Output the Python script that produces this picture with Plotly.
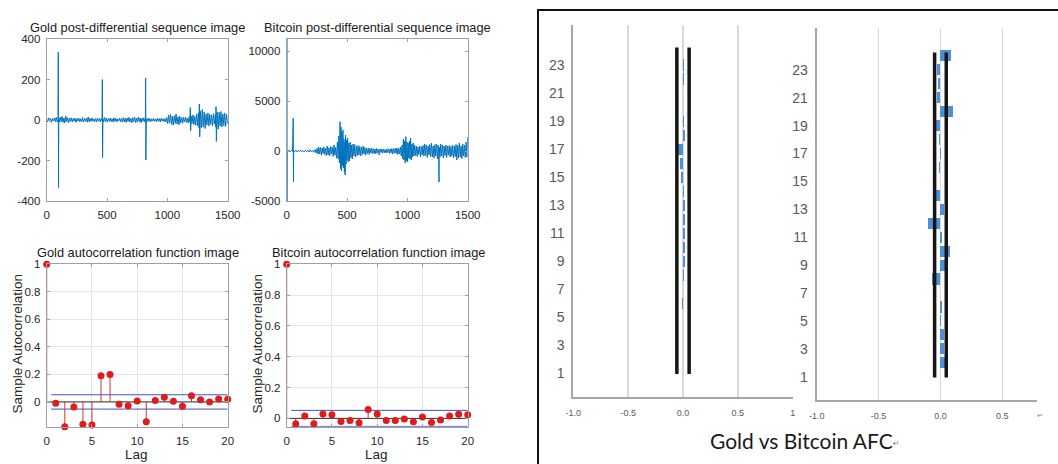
import plotly.graph_objects as go

W, H = 1058, 464

# ---------------- data ----------------
gold_points = [
    (0, 3), (8, -9), (15, 11), (24, -6), (31, 8), (40, -12), (47, 6), (55, -5), (63, 10), (71, -8), (79, 13), (87, -10), (94, 4),
    (96, 335), (98, -334), (100, 9),
    (104, -11), (112, 14), (120, -9), (127, 18), (135, -12), (143, 10), (150, -15), (158, 20), (166, -8), (173, 12), (181, -14),
    (189, 9), (196, -7), (204, 11), (212, -10), (220, 8), (228, -6), (235, 9), (243, -12), (251, 7), (259, -5), (266, 10),
    (274, -9), (282, 6), (290, -8), (297, 12), (305, -10), (313, 7), (321, -6), (328, 9), (336, -11), (344, 15), (352, -9),
    (359, 8), (367, -7), (375, 10), (383, -6), (390, 5), (398, -8), (406, 7), (414, -10), (421, 9), (429, -6), (437, 8),
    (445, -9), (452, 6), (459, -4),
    (461, 200), (463, -185), (466, 7),
    (472, -10), (480, 12), (488, -8), (495, 9), (503, -11), (511, 7), (519, -6), (526, 10), (534, -8), (542, 6), (550, -9),
    (557, 11), (565, -7), (573, 8), (581, -10), (588, 6), (596, -5), (604, 9), (612, -8), (619, 7), (627, -11), (635, 12),
    (643, -9), (650, 8), (658, -12), (666, 10), (674, -7), (681, 13), (689, -10), (697, 8), (705, -14), (712, 11), (720, -9),
    (728, 15), (736, -12), (743, 9), (751, -11), (759, 14), (767, -8), (774, 10), (782, -13), (790, 9), (798, -7), (805, 11),
    (813, -9), (818, 5),
    (820, 208), (822, -198), (825, 6),
    (832, -8), (840, 9), (848, -6), (855, 7), (863, -9), (871, 6), (879, -5), (886, 8), (894, -7), (902, 5), (910, -8),
    (917, 9), (925, -6), (933, 7), (941, -9), (948, 8), (956, -5), (964, 6), (972, -8), (979, 7), (987, -10), (995, 12),
    (1003, -18), (1010, 24), (1018, -15), (1026, 28), (1034, -22), (1041, 19), (1049, -25), (1057, 21), (1065, -17),
    (1072, 30), (1080, -20), (1088, 16), (1096, -24), (1103, 18), (1111, -14), (1119, 12), (1127, -16), (1134, 14),
    (1142, -10), (1150, 13), (1158, -12), (1165, 10), (1173, -15), (1181, 16), (1187, -10),
    (1190, 61), (1193, -53), (1197, 20),
    (1204, -18), (1212, 25), (1220, -22), (1227, 18), (1235, -26), (1243, 30), (1251, -28), (1258, 35),
    (1263, -40), (1265, 79), (1268, -83),
    (1274, 45), (1282, -38), (1289, 52), (1297, -35), (1305, 40), (1313, -42), (1320, 30), (1328, -25), (1336, 35),
    (1344, -30), (1351, 28), (1359, -22), (1367, 25), (1375, -30), (1382, 32), (1390, -20), (1398, 25),
    (1401, -35), (1403, 66), (1406, -106),
    (1413, 40), (1421, -45), (1429, 38), (1437, -30), (1444, 42), (1452, -35), (1460, 30), (1468, -28), (1475, 35),
    (1483, -32), (1491, 28), (1500, -20),
]
gold_day = [p[0] for p in gold_points]
gold_diff = [p[1] for p in gold_points]

btc_points = [
    (0, 0), (1, 11200), (2, -5000), (3, 20),
    (10, -60), (20, 80), (30, -50), (40, 70), (48, -40),
    (54, 3270), (56, -3070), (58, 30),
    (66, -80), (75, 60), (85, -90), (95, 70), (105, -60), (115, 90), (125, -70), (135, 50), (145, -80), (155, 60),
    (165, -50), (175, 80), (185, -100), (195, 120), (205, -90), (215, 70), (225, -130), (235, 150), (245, -200),
    (252, 260), (259, -320), (266, 380), (273, -300), (280, 350), (287, -420), (294, 300), (301, -250), (308, 400),
    (315, -350), (322, 280), (329, -450), (336, 500), (343, -380), (350, 320), (357, -500), (364, 450), (371, -300),
    (378, 380), (385, -550), (392, 600), (399, -420), (406, 350), (413, -700), (420, 900), (426, -800), (432, 1500),
    (437, -1200), (442, 2930), (446, -1800), (450, 2400), (454, -2000), (458, 1900), (462, -1500), (466, 2100),
    (470, -1700), (474, 1200), (478, -2100), (482, 900), (484, -2400), (488, 1600), (492, -1300), (496, 1100),
    (500, -900), (505, 1300), (510, -1100), (515, 800), (520, -1000), (526, 900), (532, -700), (538, 600), (544, -800),
    (550, 700), (557, -500), (564, 650), (571, -600), (578, 500), (585, -450), (592, 550), (599, -400), (606, 450),
    (613, -500), (620, 400), (627, -350), (634, 500), (641, -300), (648, 350), (655, -420), (662, 300), (669, -250),
    (676, 280), (683, -350), (690, 250), (697, -200), (704, 300), (711, -280), (718, 220), (725, -250), (732, 200),
    (739, -300), (746, 250), (753, -180), (760, 150), (767, -400), (774, 200), (781, -150), (788, 180), (795, -220),
    (802, 200), (809, -170), (816, 150), (823, -200), (830, 180), (837, -150), (844, 220), (851, -250), (858, 200),
    (865, -180), (872, 250), (879, -300), (886, 220), (893, -200), (900, 280), (907, -250), (914, 300), (921, -350),
    (928, 250), (935, -300), (942, 400), (949, -500), (956, 600), (962, -800), (967, 1200), (972, -900), (977, 1000),
    (982, -1200), (987, 1430), (992, -1000), (997, 900), (1002, -1100), (1007, 800), (1012, -700), (1017, 1000),
    (1022, -800), (1027, 1300), (1032, -900), (1037, 700), (1042, -600), (1048, 800), (1054, -500), (1060, 600),
    (1067, -450), (1074, 500), (1081, -550), (1088, 400), (1095, -350), (1102, 500), (1109, -600), (1116, 450),
    (1123, -400), (1130, 550), (1137, -500), (1144, 700), (1151, -450), (1158, 600), (1165, -650), (1172, 500),
    (1179, -400), (1186, 650), (1193, -550), (1200, 800), (1207, -600), (1214, 500), (1221, -700), (1228, 650),
    (1235, -500), (1242, 700), (1249, -800), (1255, 600), (1260, -300), (1262, -3100), (1264, 400), (1270, -600),
    (1277, 700), (1284, -500), (1291, 600), (1298, -700), (1305, 500), (1312, -450), (1319, 600), (1326, -650),
    (1333, 500), (1340, -400), (1347, 550), (1354, -600), (1361, 450), (1368, -500), (1375, 600), (1382, -700),
    (1389, 500), (1396, -550), (1403, 650), (1410, -900), (1417, 600), (1424, -700), (1431, 800), (1438, -600),
    (1445, 500), (1452, -750), (1459, 700), (1466, -500), (1473, 600), (1480, -650), (1487, 900), (1494, -600),
    (1500, 1400),
]
btc_day = [p[0] for p in btc_points]
btc_diff = [p[1] for p in btc_points]

acf_lags = list(range(21))
gold_acf = [1, -0.01, -0.18, -0.037, -0.163, -0.168, 0.19, 0.2, -0.017, -0.027, 0.007,
            -0.144, 0.01, 0.034, 0.005, -0.032, 0.044, 0.015, 0.0, 0.022, 0.02]
btc_acf = [1, -0.035, 0.015, -0.035, 0.028, 0.024, -0.02, -0.013, -0.028, 0.058, 0.028,
           -0.013, -0.013, -0.004, -0.022, 0.009, -0.026, -0.011, 0.015, 0.026, 0.024]
acf_bound = 0.052

spss_lags = list(range(1, 25))
gold_spss = [0.002, 0.003, -0.003, -0.003, 0.002, -0.005, -0.004, 0.01, 0.02, 0.02, 0.02, 0.015,
             0.015, 0.005, -0.02, -0.03, -0.05, 0.015, 0.008, -0.002, 0.002, 0.005, 0.012, -0.004]
btc_spss = [0.0, 0.065, 0.025, 0.025, 0.005, 0.015, 0.0, -0.07, 0.04, 0.075, 0.015, -0.1,
            0.03, -0.04, -0.005, -0.01, 0.005, -0.015, -0.045, 0.1, -0.03, -0.02, -0.03, 0.088]
gold_conf = 0.056
btc_conf = 0.047

ts_x_ticks = [0, 500, 1000, 1500]
ts_x_text = ["0", "500", "1000", "1500"]
gold_y_ticks = [-400, -200, 0, 200, 400]
gold_y_text = ["-400", "-200", "0", "200", "400"]
btc_y_ticks = [-5000, 0, 5000, 10000]
btc_y_text = ["-5000", "0", "5000", "10000"]
acf_x_ticks = [0, 5, 10, 15, 20]
acf_x_text = ["0", "5", "10", "15", "20"]
acf_y_ticks = [0, 0.2, 0.4, 0.6, 0.8, 1]
acf_y_text = ["0", "0.2", "0.4", "0.6", "0.8", "1"]
spss_y_ticks = list(range(1, 24, 2))
spss_y_text = [str(v) for v in spss_y_ticks]
spss_x_ticks_gold = [-1, -0.5, 0, 0.5, 1]
spss_x_text_gold = ["-1.0", "-0.5", "0.0", "0.5", "1"]
spss_x_ticks_btc = [-1, -0.5, 0, 0.5]
spss_x_text_btc = ["-1.0", "-0.5", "0.0", "0.5"]


# ---------------- helpers ----------------
def dx(a, b):
    return [a / W, b / W]


def dy(top, bottom):
    return [1 - bottom / H, 1 - top / H]


def px(x):
    return x / W


def py(y):
    return 1 - y / H


MFONT = "Liberation Sans, Arial, Helvetica, sans-serif"
NFONT = "Liberation Sans Narrow, Arial Narrow, Liberation Sans, sans-serif"


def matlab_axis(**kw):
    d = dict(showline=True, linecolor="#a0a0a0", linewidth=1, mirror="ticks", ticks="inside",
             ticklen=3, tickcolor="#a0a0a0", zeroline=False, showgrid=False, automargin=False,
             tickfont=dict(family=MFONT, size=11.5, color="#262626"), ticklabelstandoff=3,
             fixedrange=True)
    d.update(kw)
    return d


def spss_axis(**kw):
    d = dict(showline=True, linecolor="#a6a6a6", linewidth=2, mirror=False, ticks="",
             zeroline=False, showgrid=False, fixedrange=True, automargin=False)
    d.update(kw)
    return d


def stems(lags, vals):
    xs, ys = [], []
    for l, v in zip(lags, vals):
        xs += [l, l, None]
        ys += [0, v, None]
    return xs, ys


fig = go.Figure()

# time series
fig.add_trace(go.Scatter(x=gold_day, y=gold_diff, mode="lines", line=dict(color="#0072BD", width=1),
                         xaxis="x", yaxis="y", showlegend=False))
fig.add_trace(go.Scatter(x=btc_day, y=btc_diff, mode="lines", line=dict(color="#0072BD", width=1),
                         xaxis="x2", yaxis="y2", showlegend=False))

# ACF plots
for vals, xa, ya in [(gold_acf, "x3", "y3"), (btc_acf, "x4", "y4")]:
    fig.add_trace(go.Scatter(x=[0.5, acf_lags[-1]], y=[acf_bound, acf_bound], mode="lines",
                             line=dict(color="#4052c4", width=1), xaxis=xa, yaxis=ya, showlegend=False))
    fig.add_trace(go.Scatter(x=[0.5, acf_lags[-1]], y=[-acf_bound, -acf_bound], mode="lines",
                             line=dict(color="#4052c4", width=1), xaxis=xa, yaxis=ya, showlegend=False))
    fig.add_trace(go.Scatter(x=[acf_lags[0], acf_lags[-1]], y=[0, 0], mode="lines",
                             line=dict(color="#303030", width=1), xaxis=xa, yaxis=ya, showlegend=False))
    sx, sy = stems(acf_lags, vals)
    fig.add_trace(go.Scatter(x=sx, y=sy, mode="lines", line=dict(color="#d03434", width=1),
                             xaxis=xa, yaxis=ya, showlegend=False, cliponaxis=False))
    fig.add_trace(go.Scatter(x=acf_lags, y=vals, mode="markers",
                             marker=dict(color="#e01b1b", size=7, line=dict(width=0)),
                             xaxis=xa, yaxis=ya, showlegend=False, cliponaxis=False))

# SPSS-style ACF bars
for vals, conf, xa, ya in [(gold_spss, gold_conf, "x5", "y5"), (btc_spss, btc_conf, "x6", "y6")]:
    fig.add_trace(go.Bar(y=spss_lags, x=vals, orientation="h", width=0.8,
                         marker=dict(color="#4f8fd8", line=dict(width=0)),
                         xaxis=xa, yaxis=ya, showlegend=False))
    ylo, yhi = spss_lags[0] - 0.05, spss_lags[-1] + 0.25
    for c in (-conf, conf):
        fig.add_trace(go.Scatter(x=[c, c], y=[ylo, yhi], mode="lines",
                                 line=dict(color="#151515", width=3.5),
                                 xaxis=xa, yaxis=ya, showlegend=False))

layout = dict(
    width=W, height=H, margin=dict(l=0, r=0, t=0, b=0, autoexpand=False),
    paper_bgcolor="white", plot_bgcolor="white", showlegend=False, bargap=0,
    xaxis=matlab_axis(domain=dx(46.7, 227.7), range=[0, 1500], tickvals=ts_x_ticks, ticktext=ts_x_text, anchor="y"),
    yaxis=matlab_axis(domain=dy(39, 201), range=[-400, 400], tickvals=gold_y_ticks, ticktext=gold_y_text, anchor="x"),
    xaxis2=matlab_axis(domain=dx(286.7, 467.7), range=[0, 1500], tickvals=ts_x_ticks, ticktext=ts_x_text, anchor="y2"),
    yaxis2=matlab_axis(domain=dy(39, 201), range=[-5000, 11200], tickvals=btc_y_ticks, ticktext=btc_y_text, anchor="x2"),
    xaxis3=matlab_axis(domain=dx(46.7, 227.7), range=[0, 20], tickvals=acf_x_ticks, ticktext=acf_x_text, anchor="y3",
                       showgrid=True, gridcolor="#e6e6e6", gridwidth=1),
    yaxis3=matlab_axis(domain=dy(264.3, 426.7), range=[-0.18, 1], tickvals=acf_y_ticks, ticktext=acf_y_text,
                       anchor="x3", showgrid=True, gridcolor="#e6e6e6", gridwidth=1),
    xaxis4=matlab_axis(domain=dx(286.7, 467.7), range=[0, 20], tickvals=acf_x_ticks, ticktext=acf_x_text, anchor="y4",
                       showgrid=True, gridcolor="#e6e6e6", gridwidth=1),
    yaxis4=matlab_axis(domain=dy(264.3, 426.7), range=[-0.054, 1], tickvals=acf_y_ticks, ticktext=acf_y_text,
                       anchor="x4", showgrid=True, gridcolor="#e6e6e6", gridwidth=1),
    xaxis5=spss_axis(domain=dx(573.3, 792.7), range=[-1, 1], tickvals=spss_x_ticks_gold, ticktext=spss_x_text_gold,
                     anchor="y5", showgrid=True, gridcolor="#d9d9d9", gridwidth=1.5,
                     tickfont=dict(family=NFONT, size=9, color="#595959"), ticklabelstandoff=6),
    yaxis5=spss_axis(domain=dy(25, 397), range=[-0.69, 25.86], tickvals=spss_y_ticks, ticktext=spss_y_text,
                     anchor="x5", tickfont=dict(family=NFONT, size=14, color="#595959"), ticklabelstandoff=4),
    xaxis6=spss_axis(domain=dx(816.7, 1036.7), range=[-1, 0.778], tickvals=spss_x_ticks_btc, ticktext=spss_x_text_btc,
                     anchor="y6", showgrid=True, gridcolor="#d9d9d9", gridwidth=1.5,
                     tickfont=dict(family=NFONT, size=9, color="#595959"), ticklabelstandoff=6),
    yaxis6=spss_axis(domain=dy(28, 400), range=[-0.67, 26.0], tickvals=spss_y_ticks, ticktext=spss_y_text,
                     anchor="x6", tickfont=dict(family=NFONT, size=14, color="#595959"), ticklabelstandoff=4),
)
fig.update_layout(**layout)

TFONT = dict(family=MFONT, size=12.8, color="#1a1a1a")
LFONT = dict(family=MFONT, size=13.5, color="#262626")
ann = [
    dict(text="Gold post-differential sequence image", x=px(137.5), y=py(28), font=TFONT),
    dict(text="Bitcoin post-differential sequence image", x=px(377.5), y=py(28), font=TFONT),
    dict(text="Gold autocorrelation function image", x=px(137.5), y=py(252.5), font=TFONT),
    dict(text="Bitcoin autocorrelation function image", x=px(378), y=py(252.5), font=TFONT),
    dict(text="Sample Autocorrelation", x=px(16.5), y=py(344), textangle=-90, font=LFONT),
    dict(text="Sample Autocorrelation", x=px(256.5), y=py(344), textangle=-90, font=LFONT),
    dict(text="Lag", x=px(136.7), y=0, yanchor="bottom", font=LFONT),
    dict(text="Lag", x=px(376.5), y=0, yanchor="bottom", font=LFONT),
    dict(text="Gold vs Bitcoin AFC", x=px(801.7), y=py(440), font=dict(family="Lato, Open Sans, sans-serif", size=21, color="#1a1a1a")),
    dict(text="\u21b5", x=px(896), y=py(443), font=dict(family="DejaVu Sans", size=8, color="#808080")),
    dict(text="\u21b5", x=px(1040), y=py(416), font=dict(family="DejaVu Sans", size=7, color="#808080")),
]
for a in ann:
    a.setdefault("xref", "paper")
    a.setdefault("yref", "paper")
    a.setdefault("showarrow", False)
    a.setdefault("xanchor", "center")
    a.setdefault("yanchor", "middle")
fig.update_layout(annotations=ann)

fig.add_shape(type="rect", xref="paper", yref="paper", x0=px(538), x1=px(1070), y0=py(480), y1=py(10),
              line=dict(color="#111111", width=2), fillcolor="rgba(0,0,0,0)", layer="above")

fig.write_html("out.html", config={"displayModeBar": False, "staticPlot": True},
               post_script="document.body.style.margin='0px';document.body.style.overflow='hidden';")
